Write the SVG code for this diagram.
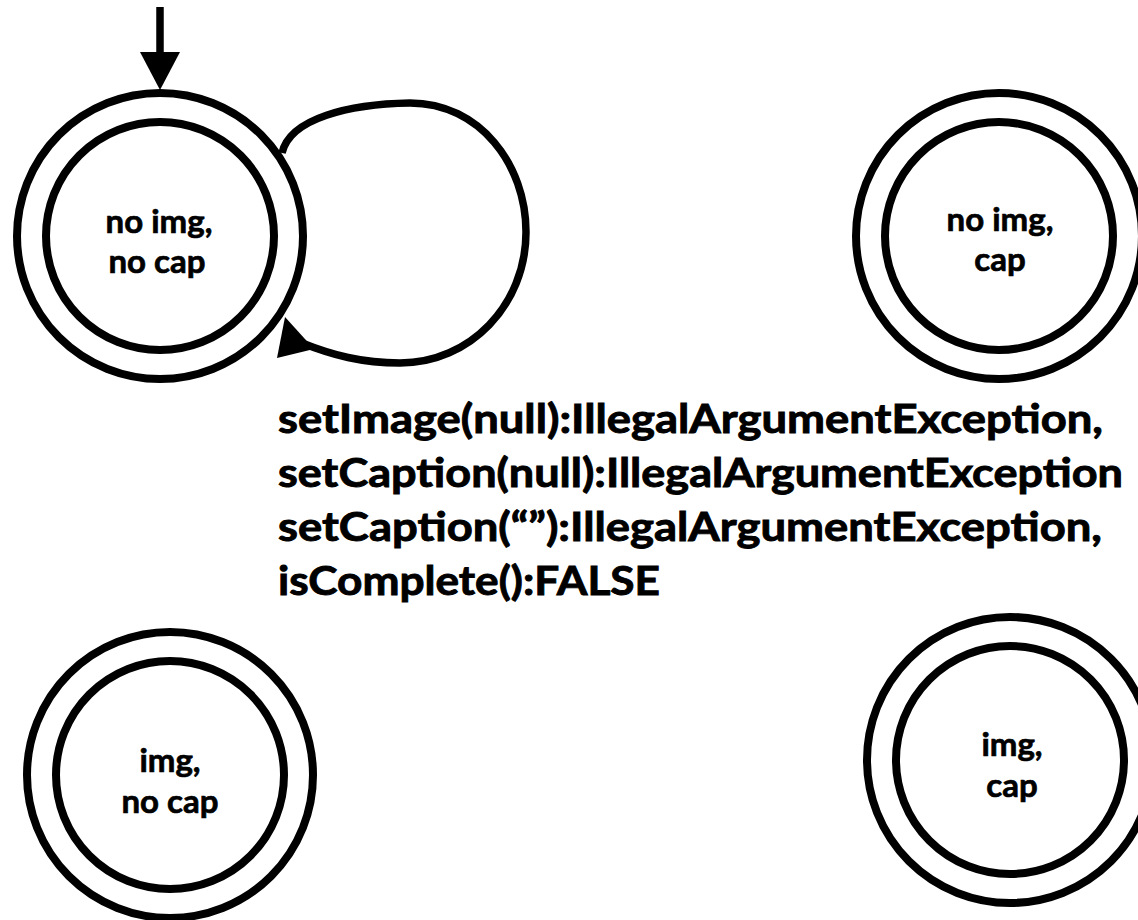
<svg xmlns="http://www.w3.org/2000/svg" width="1138" height="920" viewBox="0 0 1138 920">
  <style>
    .ring { fill: none; stroke: #000; stroke-width: 8; }
    .edge { fill: none; stroke: #000; stroke-width: 7.5; stroke-linecap: butt; }
    .head { fill: #000; stroke: none; }
    .state { font-family: Lato, "Liberation Sans", sans-serif; font-weight: 700; font-size: 33px; fill: #000; stroke: #000; stroke-width: 0.7; text-anchor: middle; }
    .label { font-family: Lato, "Liberation Sans", sans-serif; font-weight: 700; font-size: 40px; fill: #000; stroke: #000; stroke-width: 0.9; }
  </style>
  <rect width="1138" height="920" fill="#fff"/>

  <!-- connectors: start arrow and the self-loop on the initial state -->
  <g id="connectors">
    <line class="edge" x1="160" y1="7" x2="160" y2="56"/>
    <polygon class="head" points="140,52 180,52 160,90"/>
    <path class="edge" d="M 282 153 C 290 118, 350 104, 410 103 C 480 103, 526 165, 526 232 C 526 305, 470 363, 400 363 C 362 363, 332 355, 302 343"/>
    <polygon class="head" points="277,358 285,317 314,349"/>
    <g id="loop-label" class="label">
      <text x="278" y="433" textLength="825" lengthAdjust="spacingAndGlyphs">setImage(null):IllegalArgumentException,</text>
      <text x="278" y="487" textLength="845" lengthAdjust="spacingAndGlyphs">setCaption(null):IllegalArgumentException</text>
      <text x="278" y="541" textLength="824" lengthAdjust="spacingAndGlyphs">setCaption(“”):IllegalArgumentException,</text>
      <text x="278" y="595" textLength="382" lengthAdjust="spacingAndGlyphs">isComplete():FALSE</text>
    </g>
  </g>

  <g id="state-noimg-nocap">
    <circle class="ring" cx="160" cy="236" r="143"/>
    <circle class="ring" cx="160" cy="236" r="114"/>
    <text class="state" x="159" y="233">no img,</text>
    <text class="state" x="157" y="273">no cap</text>
  </g>

  <g id="state-noimg-cap">
    <circle class="ring" cx="999" cy="236" r="143"/>
    <circle class="ring" cx="999" cy="236" r="114"/>
    <text class="state" x="1000" y="231">no img,</text>
    <text class="state" x="1000" y="271">cap</text>
  </g>

  <g id="state-img-nocap">
    <circle class="ring" cx="170" cy="775" r="143"/>
    <circle class="ring" cx="170" cy="775" r="114"/>
    <text class="state" x="170" y="772">img,</text>
    <text class="state" x="170" y="813">no cap</text>
  </g>

  <g id="state-img-cap">
    <circle class="ring" cx="1010" cy="760" r="143"/>
    <circle class="ring" cx="1010" cy="760" r="114"/>
    <text class="state" x="1012" y="756">img,</text>
    <text class="state" x="1012" y="797">cap</text>
  </g>
</svg>
